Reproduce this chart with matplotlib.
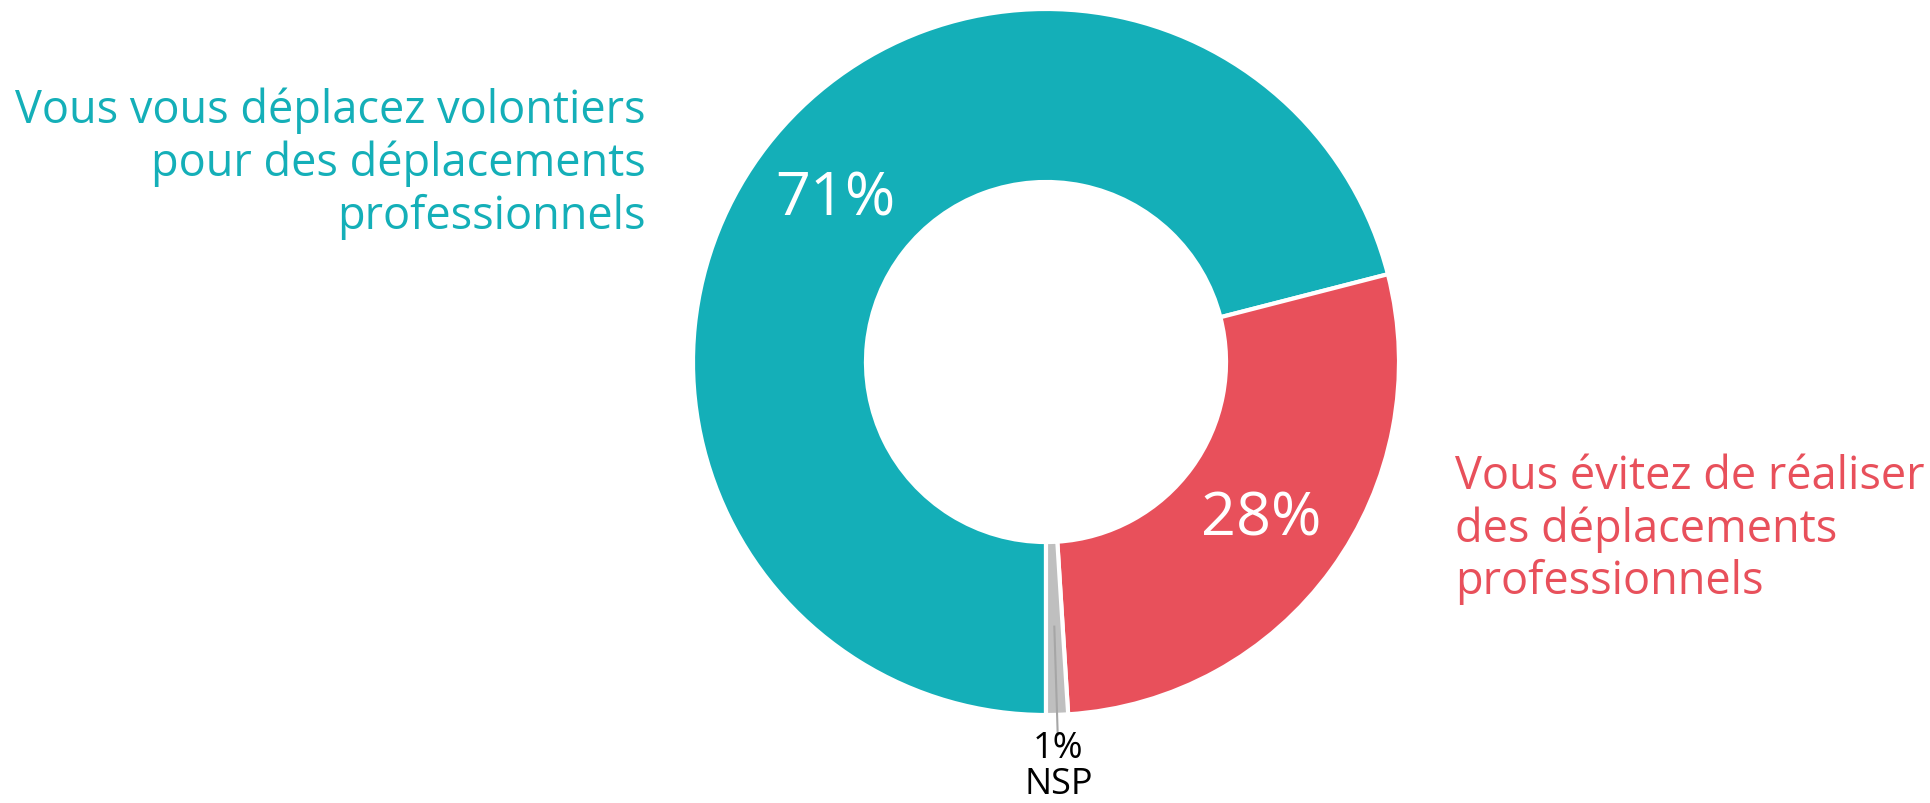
import numpy as np
import matplotlib
matplotlib.use("Agg")
import matplotlib.pyplot as plt

# Data
categories = ["Vous vous déplacez volontiers\npour des déplacements\nprofessionnels",
              "Vous évitez de réaliser\ndes déplacements\nprofessionnels",
              "NSP"]
values = [71, 28, 1]
colors = ["#14AFB8", "#E8505B", "#BFBFBF"]

W, H = 1931, 804
CX, CY, R = 1046, H - 363, 353

plt.rcParams['font.family'] = ['Open Sans', 'DejaVu Sans']

fig = plt.figure(figsize=(W / 100, H / 100), dpi=100)
ax = fig.add_axes([0, 0, 1, 1])

wedges, _ = ax.pie(values, colors=colors, startangle=-90, counterclock=False,
                   center=(CX, CY), radius=R,
                   wedgeprops=dict(width=R * 0.49, edgecolor="white", linewidth=3))
ax.set_xlim(0, W)
ax.set_ylim(0, H)
ax.set_aspect('auto')
ax.axis('off')


def mid_angle(w):
    return np.deg2rad((w.theta1 + w.theta2) / 2)


# percentages inside the two big slices
for w, v in zip(wedges[:2], values[:2]):
    a = mid_angle(w)
    ax.text(CX + 0.755 * R * np.cos(a), CY + 0.755 * R * np.sin(a), f"{v}%",
            color="white", fontsize=44, ha="center", va="center")

# small slice: leader line and label below
a = mid_angle(wedges[2])
ax.plot([CX + 0.75 * R * np.cos(a), CX + 1.057 * R * np.cos(a)],
        [CY + 0.75 * R * np.sin(a), CY + 1.057 * R * np.sin(a)],
        color="#A6A6A6", lw=1.5)
ax.text(CX + 1.105 * R * np.cos(a), CY + 1.105 * R * np.sin(a) - 14,
        f"{values[2]}%\n{categories[2]}", color="black", fontsize=26,
        ha="center", va="center", linespacing=0.98)

# category labels
ax.text(646, H - 88, categories[0], color=colors[0], fontsize=32.5,
        ha="right", va="top", linespacing=1.18)
ax.text(1455, H - 454, categories[1], color=colors[1], fontsize=32.5,
        ha="left", va="top", linespacing=1.18)

fig.savefig("out.png", dpi=100, facecolor="white")
